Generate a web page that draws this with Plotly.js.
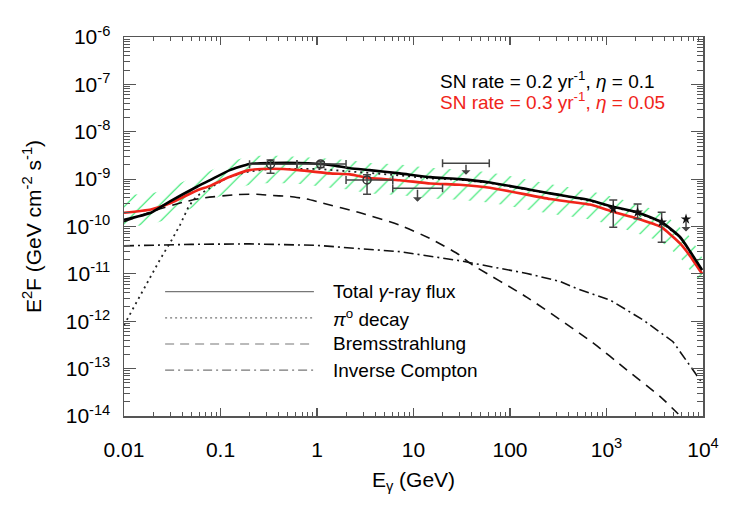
<!DOCTYPE html>
<html>
<head>
<meta charset="utf-8">
<script src="https://cdn.plot.ly/plotly-3.0.1.min.js"></script>
<style>
  html, body { margin:0; padding:0; background:#fff; }
  #chart { width:736px; height:526px; }
</style>
</head>
<body>
<div id="chart"></div>
<script>
// model curves (E in GeV, E^2F in GeV cm^-2 s^-1)
const eTot = [0.01, 0.019, 0.03, 0.057, 0.078, 0.125, 0.2, 0.33, 0.65, 1.36, 2.2, 3.5, 7.2, 15, 30, 62, 260, 675, 1170, 2070, 3670, 5780, 7330, 9800];
const totalA = [1.38e-10, 1.95e-10, 3.39e-10, 6.9e-10, 9.5e-10, 1.55e-9, 2.09e-9, 2.19e-9, 2.19e-9, 2.0e-9, 1.70e-9, 1.55e-9, 1.32e-9, 1.10e-9, 1.0e-9, 8.5e-10, 5.0e-10, 3.6e-10, 2.6e-10, 2.0e-10, 1.26e-10, 6.0e-11, 3.0e-11, 1.2e-11];
const totalB = [1.95e-10, 2.29e-10, 3.09e-10, 5.75e-10, 7.2e-10, 1.12e-9, 1.55e-9, 1.66e-9, 1.55e-9, 1.32e-9, 1.26e-9, 1.05e-9, 9.5e-10, 8.1e-10, 7.6e-10, 6.6e-10, 3.8e-10, 2.9e-10, 2.04e-10, 1.48e-10, 9.8e-11, 4.4e-11, 2.4e-11, 1.0e-11];
const bandHi = [4.68e-10, 5.0e-10, 6.6e-10, 1.20e-9, 1.51e-9, 2.34e-9, 3.02e-9, 3.16e-9, 2.95e-9, 2.69e-9, 2.51e-9, 2.19e-9, 2.04e-9, 1.74e-9, 1.58e-9, 1.38e-9, 7.9e-10, 5.6e-10, 4.2e-10, 3.0e-10, 2.0e-10, 9.5e-11, 6.0e-11, 2.2e-11];
const bandLo = [9.8e-11, 1.12e-10, 1.48e-10, 2.75e-10, 3.47e-10, 5.4e-10, 7.6e-10, 8.3e-10, 7.9e-10, 6.6e-10, 6.0e-10, 5.0e-10, 4.57e-10, 3.9e-10, 3.63e-10, 3.16e-10, 1.86e-10, 1.41e-10, 1.05e-10, 7.2e-11, 4.7e-11, 2.2e-11, 1.2e-11, 6.0e-12];

const ePi = [0.01, 0.0178, 0.0236, 0.0312, 0.038, 0.046, 0.052, 0.06, 0.075, 0.091, 0.116, 0.16, 0.2, 0.33, 1.0, 2.2, 3.5, 7.2, 15, 30, 62, 260, 675, 1170, 2070, 3670, 5780, 7330, 9800];
const piDecay = [8.3e-13, 7.4e-12, 2.0e-11, 5.2e-11, 1.07e-10, 2.45e-10, 3.6e-10, 4.7e-10, 6.3e-10, 7.9e-10, 1.05e-9, 1.3e-9, 1.45e-9, 1.65e-9, 1.65e-9, 1.46e-9, 1.38e-9, 1.2e-9, 1.03e-9, 9.7e-10, 8.3e-10, 4.9e-10, 3.5e-10, 2.55e-10, 1.97e-10, 1.24e-10, 5.9e-11, 2.95e-11, 1.2e-11];

const eBrem = [0.01, 0.0218, 0.0447, 0.0664, 0.147, 0.237, 0.35, 0.525, 0.78, 1.15, 2.8, 7.2, 15.9, 30, 38, 150, 725, 1630, 3580, 5380, 7330];
const brems = [1.26e-10, 2.24e-10, 3.4e-10, 4.0e-10, 4.7e-10, 4.8e-10, 4.5e-10, 4.3e-10, 3.8e-10, 3.1e-10, 1.95e-10, 1.07e-10, 5.2e-11, 2.5e-11, 1.7e-11, 3.2e-12, 3.5e-13, 9.3e-14, 2.6e-14, 1.17e-14, 6.3e-15];

const eIC = [0.01, 0.05, 0.2, 1.0, 2.8, 7.2, 30, 68, 150, 330, 480, 1090, 2390, 4890, 7870, 9800];
const inverseCompton = [3.9e-11, 4.2e-11, 4.3e-11, 4.0e-11, 3.4e-11, 2.95e-11, 1.9e-11, 1.41e-11, 1.02e-11, 6.9e-12, 5.0e-12, 2.8e-12, 1.07e-12, 3.7e-13, 9.3e-14, 5.0e-14];

// Fermi points
const fermiE = [0.33, 1.09, 3.3];
const fermiF = [2.06e-9, 2.09e-9, 9.6e-10];
const fermiUp = [2.54e-9, 2.34e-9, 1.23e-9];
const fermiDn = [1.33e-9, 1.75e-9, 4.8e-10];
const fermiBinLo = [0.2, 0.62, 2.0];
const fermiBinHi = [0.62, 2.0, 6.1];
// Fermi upper limits
const ulE = [11, 35];
const ulF = [6.4e-10, 2.16e-9];
const ulBinLo = [6.1, 20];
const ulBinHi = [20, 61];
const ulTip = [3.35e-10, 1.23e-9];
// HESS points
const hessE = [1175, 2100, 3730];
const hessF = [2.35e-10, 2.0e-10, 1.23e-10];
const hessUp = [3.64e-10, 3.0e-10, 2.0e-10];
const hessDn = [9.7e-11, 1.45e-10, 4.67e-11];
const hessUlE = [6670];
const hessUlF = [1.43e-10];
const hessUlTip = [7.8e-11];

const xTicks = [0.01, 0.1, 1, 10, 100, 1000, 10000];
const xTickText = ['0.01', '0.1', '1', '10', '100', '10<sup>3</sup>', '10<sup>4</sup>'];
const yTicks = [1e-14, 1e-13, 1e-12, 1e-11, 1e-10, 1e-9, 1e-8, 1e-7, 1e-6];
const yTickText = ['-14', '-13', '-12', '-11', '-10', '-9', '-8', '-7', '-6'].map(p => `10<sup>${p}</sup>`);

const legendItems = [
  {label:'Total <i>γ</i>-ray flux', dash:'solid'},
  {label:'<i>π</i><sup>o</sup> decay', dash:'2px,3px'},
  {label:'Bremsstrahlung', dash:'9px,6px'},
  {label:'Inverse Compton', dash:'9px,4px,2px,4px'}
];

const font = 'Liberation Sans, Arial, Helvetica, sans-serif';
const axisGray = '#555';
const hatch = '#2ee86c';
const red = '#f0241a';
const diff = (a, b) => a.map((v, i) => v - b[i]);

const traces = [
  {x:eTot, y:bandLo, mode:'lines', line:{width:0, shape:'spline', smoothing:0.5}, hoverinfo:'skip'},
  {x:eTot, y:bandHi, mode:'lines', line:{width:0, shape:'spline', smoothing:0.5}, fill:'tonexty', fillcolor:'rgba(0,0,0,0)',
   fillpattern:{shape:'/', fgcolor:hatch, bgcolor:'rgba(0,0,0,0)', size:12, solidity:0.1}, hoverinfo:'skip'},
  {x:eIC, y:inverseCompton, mode:'lines', line:{color:'#111', width:1.6, dash:'10px,4px,2px,4px'}},
  {x:eBrem, y:brems, mode:'lines', line:{color:'#111', width:1.6, dash:'10px,7px', shape:'spline', smoothing:0.6}},
  {x:ePi, y:piDecay, mode:'lines', line:{color:'#222', width:1.8, dash:'2px,4px'}},
  {x:eTot, y:totalB, mode:'lines', line:{color:red, width:2.6, shape:'spline', smoothing:0.5}},
  {x:eTot, y:totalA, mode:'lines', line:{color:'#000', width:2.6, shape:'spline', smoothing:0.5}},
  {x:fermiE, y:fermiF, mode:'markers',
   marker:{symbol:'circle-open', size:8, color:'#333', line:{width:1.5, color:'#333'}},
   error_y:{type:'data', symmetric:false, array:diff(fermiUp, fermiF), arrayminus:diff(fermiF, fermiDn), color:'#444', thickness:1.5, width:4},
   error_x:{type:'data', symmetric:false, array:diff(fermiBinHi, fermiE), arrayminus:diff(fermiE, fermiBinLo), color:'#444', thickness:1.5, width:4}},
  {x:ulE, y:ulF, mode:'markers', marker:{size:1, color:'rgba(0,0,0,0)'},
   error_x:{type:'data', symmetric:false, array:diff(ulBinHi, ulE), arrayminus:diff(ulE, ulBinLo), color:'#444', thickness:1.5, width:4}},
  {x:hessE, y:hessF, mode:'markers',
   marker:{symbol:'star', size:8, color:'#111'},
   error_y:{type:'data', symmetric:false, array:diff(hessUp, hessF), arrayminus:diff(hessF, hessDn), color:'#444', thickness:1.5, width:4}},
  {x:hessUlE, y:hessUlF, mode:'markers', marker:{symbol:'star', size:8, color:'#111'}}
];

const arrow = (e, from, to) => ({
  xref:'x', yref:'y', axref:'x', ayref:'y',
  x:Math.log10(e), y:Math.log10(to), ax:Math.log10(e), ay:Math.log10(from),
  text:'', showarrow:true, arrowhead:1, arrowsize:1, arrowwidth:1.5, arrowcolor:'#444'
});

const annotations = [
  ...ulE.map((e, i) => arrow(e, ulF[i], ulTip[i])),
  ...hessUlE.map((e, i) => arrow(e, hessUlF[i], hessUlTip[i])),
  {xref:'paper', yref:'paper', x:0.542, y:0.887, xanchor:'left', yanchor:'middle', showarrow:false,
   text:'SN rate = 0.2 yr<sup>-1</sup>, <i>η</i> = 0.1', font:{family:font, size:19, color:'#000'}},
  {xref:'paper', yref:'paper', x:0.542, y:0.830, xanchor:'left', yanchor:'middle', showarrow:false,
   text:'SN rate = 0.3 yr<sup>-1</sup>, <i>η</i> = 0.05', font:{family:font, size:19, color:red}},
  ...legendItems.map((d, i) => ({xref:'paper', yref:'paper', x:0.357, y:0.328 - i * 0.069,
   xanchor:'left', yanchor:'middle', showarrow:false, text:d.label, font:{family:font, size:19, color:'#000'}}))
];

const shapes = legendItems.map((d, i) => ({
  type:'line', xref:'paper', yref:'paper', x0:0.071, x1:0.328, y0:0.328 - i * 0.069, y1:0.328 - i * 0.069,
  line:{color:'#777', width:1.2, dash:d.dash}
}));

const axisBase = {
  type:'log', showgrid:false, zeroline:false, showline:true, linecolor:axisGray, linewidth:1.5,
  mirror:'ticks', ticks:'inside', tickcolor:axisGray, tickwidth:1.2,
  tickmode:'array', tickfont:{family:font, size:21, color:'#000'}
};

const layout = {
  width:736, height:526,
  margin:{l:124, r:33, t:37, b:110},
  paper_bgcolor:'#fff', plot_bgcolor:'#fff',
  font:{family:font, color:'#000'},
  showlegend:false,
  xaxis:{...axisBase, range:[-2, 4], tickvals:xTicks, ticktext:xTickText, ticklen:8,
    ticklabelstandoff:14,
    minor:{ticks:'inside', ticklen:4, dtick:'D1', tickcolor:axisGray, tickwidth:1},
    title:{text:'E<sub>γ</sub> (GeV)', font:{family:font, size:21}, standoff:12}},
  yaxis:{...axisBase, range:[-14, -6], tickvals:yTicks, ticktext:yTickText, ticklen:12,
    ticklabelstandoff:8,
    minor:{ticks:'inside', ticklen:6, dtick:'D1', tickcolor:axisGray, tickwidth:1},
    title:{text:'E<sup>2</sup>F (GeV cm<sup>-2</sup> s<sup>-1</sup>)', font:{family:font, size:21}, standoff:18}},
  annotations, shapes
};

Plotly.newPlot('chart', traces, layout, {displayModeBar:false, staticPlot:true});
</script>
</body>
</html>
